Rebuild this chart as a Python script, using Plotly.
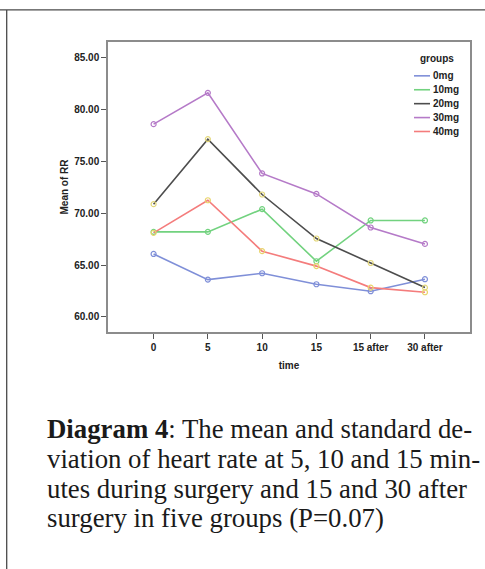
import plotly.graph_objects as go

# Mean RR per group at each time point
time_labels = ["0", "5", "10", "15", "15 after", "30 after"]
groups = ["0mg", "10mg", "20mg", "30mg", "40mg"]
rr_0mg = [66.07, 63.60, 64.21, 63.15, 62.48, 63.64]
rr_10mg = [68.20, 68.20, 70.39, 65.37, 69.30, 69.30]
rr_20mg = [70.87, 77.14, 71.80, 67.56, 65.20, 62.83]
rr_30mg = [78.58, 81.60, 73.83, 71.86, 68.62, 67.04]
rr_40mg = [68.10, 71.25, 66.34, 64.90, 62.83, 62.38]
y_ticks = [60, 65, 70, 75, 80, 85]

series = [rr_0mg, rr_10mg, rr_20mg, rr_30mg, rr_40mg]
line_colors = ["#7f8fd8", "#72d27f", "#4d4d4d", "#b57ac8", "#f47c7c"]
marker_colors = ["#7f8fd8", "#72d27f", "#e3d77a", "#b57ac8", "#e8d46a"]

W, H = 485, 569
PL, PR, PT, PB = 108, 470, 42, 331.7  # plot area in pixels


def px(x):
    return (x - PL) / (PR - PL)


def py(y):
    return (PB - y) / (PB - PT)


fig = go.Figure()
for name, vals, lc, mc in zip(groups, series, line_colors, marker_colors):
    fig.add_trace(go.Scatter(
        x=time_labels, y=vals, name=name, mode="lines+markers",
        line=dict(color=lc, width=1.6),
        marker=dict(symbol="circle-open", size=5, color=mc, line=dict(width=1.2, color=mc)),
        showlegend=False,
    ))

axis_font = dict(family="Liberation Sans, Arial, sans-serif", size=10, color="#222222", weight="bold")

fig.update_layout(
    width=W, height=H,
    margin=dict(l=PL, r=W - PR, t=PT, b=H - PB),
    paper_bgcolor="white", plot_bgcolor="white",
    font=axis_font,
    xaxis=dict(
        type="category", range=[-0.84, 5.83],
        showline=True, mirror=True, linecolor="#8c8c8c", linewidth=1.5,
        ticks="outside", ticklen=5, tickcolor="#555555", tickwidth=1,
        showgrid=False, zeroline=False, tickfont=axis_font,
        title=dict(text="time", font=axis_font, standoff=10),
    ),
    yaxis=dict(
        range=[58.55, 86.5], tickvals=y_ticks, tickformat=".2f",
        showline=True, mirror=True, linecolor="#8c8c8c", linewidth=1.5,
        ticks="outside", ticklen=5, tickcolor="#555555", tickwidth=1,
        showgrid=False, zeroline=False, tickfont=axis_font,
        title=dict(text="Mean of RR", font=axis_font, standoff=4),
    ),
)

# Legend drawn as short line keys with labels
annotations = [dict(
    x=px(437), y=py(58), xref="paper", yref="paper", text="groups",
    showarrow=False, xanchor="center", yanchor="middle", font=axis_font,
)]
shapes = []
leg_y0, leg_dy = 75.8, 13.9
for i, (name, lc) in enumerate(zip(groups, line_colors)):
    yy = leg_y0 + i * leg_dy
    shapes.append(dict(type="line", xref="paper", yref="paper",
                       x0=px(414), x1=px(430), y0=py(yy), y1=py(yy),
                       line=dict(color=lc, width=1.6)))
    annotations.append(dict(
        x=px(431), y=py(yy), xref="paper", yref="paper", text=name,
        showarrow=False, xanchor="left", yanchor="middle", font=axis_font,
    ))

# Page rules framing the figure
shapes.append(dict(type="line", xref="paper", yref="paper",
                   x0=px(0), x1=px(W), y0=py(10), y1=py(10),
                   line=dict(color="#4a4a4a", width=1.3)))
shapes.append(dict(type="line", xref="paper", yref="paper",
                   x0=px(6.7), x1=px(6.7), y0=py(10), y1=py(H),
                   line=dict(color="#4a4a4a", width=1.3)))

# Caption
cap_font = dict(family="Liberation Serif, Times New Roman, serif", size=26.8,
                color="#1a1a1a", weight="normal")
caption_lines = [
    "<b>Diagram 4</b>: The mean and standard de-",
    "viation of heart rate at 5, 10 and 15 min-",
    "utes during surgery and 15 and 30 after",
    "surgery in five groups (P=0.07)",
]
cap_y = [429, 459, 489, 518]
for txt, yy in zip(caption_lines, cap_y):
    annotations.append(dict(
        x=px(45), y=py(yy), xref="paper", yref="paper", text=txt,
        showarrow=False, xanchor="left", yanchor="middle", font=cap_font,
    ))

fig.update_layout(annotations=annotations, shapes=shapes)
fig.write_html("out.html")
